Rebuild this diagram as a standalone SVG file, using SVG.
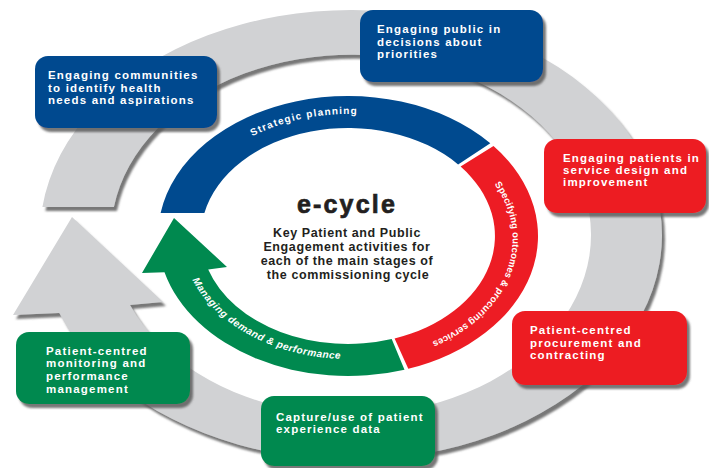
<svg xmlns="http://www.w3.org/2000/svg" xmlns:xlink="http://www.w3.org/1999/xlink" width="709" height="468" viewBox="0 0 709 468">
<style>
.box-blue{fill:#004a8f}
.box-red{fill:#ed1c24}
.box-green{fill:#00894f}
.bt{font-family:"Liberation Sans",Arial,sans-serif;font-weight:bold;font-size:11.5px;letter-spacing:1.2px;fill:#ffffff}
.ct{font-family:"Liberation Sans",Arial,sans-serif;font-weight:bold;font-size:12.5px;letter-spacing:0.6px;fill:#231f20;text-anchor:middle}
.arc{font-family:"Liberation Sans",Arial,sans-serif;font-weight:bold;fill:#ffffff}
.man{font-size:10px;font-style:italic;letter-spacing:0.5px}
</style>
<defs>
<filter id="ds" x="-10%" y="-10%" width="130%" height="130%">
<feGaussianBlur in="SourceAlpha" stdDeviation="1.2"/>
<feOffset dx="3" dy="4" result="o"/>
<feFlood flood-color="#555555" flood-opacity="0.8"/>
<feComposite in2="o" operator="in"/>
<feMerge><feMergeNode/><feMergeNode in="SourceGraphic"/></feMerge>
</filter>
<path id="p-strat" d="M194.1,190.3 A166,122 0 0,1 436,132.5"/>
<path id="p-spec" d="M474.5,162 A161,119 0 0,1 403.8,351.5"/>
<path id="p-man" d="M181.6,238 A167,123 0 0,0 391,355"/>
</defs>

<g id="connectors">
<path id="cycle-arrow" filter="url(#ds)" fill="#d1d2d4" d="M42.4,207 A311,225 0 1,1 59.3,313 L13,315 L72,217 L163,302 L130,305 A240,180 0 1,0 113.9,207 Z"/>
</g>

<g id="stage-strategic">
<path fill="#004a8f" d="M160.6,212.9 A190,140 0 0,1 490.3,143.2 L458.1,164.4 A147,108 0 0,0 204.4,213 Z"/>
<text class="arc" font-size="10" letter-spacing="1.2"><textPath xlink:href="#p-strat" href="#p-strat" startOffset="50%" text-anchor="middle">Strategic planning</textPath></text>
</g>

<g id="stage-specifying">
<path fill="#ed1c24" d="M493.5,146 A190,140 0 0,1 408.3,368.8 L394.6,338.4 A147,108 0 0,0 460.6,166.6 Z"/>
<text class="arc" font-size="9.5" letter-spacing="0.1"><textPath xlink:href="#p-spec" href="#p-spec" startOffset="50%" text-anchor="middle">Specifying outcomes &amp; procuring services</textPath></text>
</g>

<g id="stage-managing">
<path fill="#00894f" d="M404.5,369.7 A190,140 0 0,1 164.5,272.2 L142,273 L174,218 L227,267 L208.2,269.4 A147,108 0 0,0 391.7,339.1 Z"/>
<text class="arc man"><textPath xlink:href="#p-man" href="#p-man" startOffset="43.5">Managing</textPath></text>
<text class="arc man"><textPath xlink:href="#p-man" href="#p-man" startOffset="97.5">demand</textPath></text>
<text class="arc man"><textPath xlink:href="#p-man" href="#p-man" startOffset="142.1">&amp; performance</textPath></text>
</g>

<g id="center-title">
<text x="347" y="213" font-family="Liberation Sans,Arial,sans-serif" font-weight="bold" font-size="25" letter-spacing="2.2" fill="#231f20" stroke="#231f20" stroke-width="0.7" text-anchor="middle">e-cycle</text>
<text class="ct" x="347" y="236.5">Key Patient and Public</text>
<text class="ct" x="347" y="250.5">Engagement activities for</text>
<text class="ct" x="347" y="264.5">each of the main stages of</text>
<text class="ct" x="348" y="278.5">the commissioning cycle</text>
</g>

<g id="box-communities">
<rect class="box-blue" filter="url(#ds)" x="35" y="56" width="182" height="72" rx="13"/>
<text class="bt" x="48" y="79">Engaging communities</text>
<text class="bt" x="48" y="91.7">to identify health</text>
<text class="bt" x="48" y="104.3">needs and aspirations</text>
</g>

<g id="box-public">
<rect class="box-blue" filter="url(#ds)" x="360" y="10" width="183" height="72" rx="13"/>
<text class="bt" x="377" y="33.3">Engaging public in</text>
<text class="bt" x="377" y="45.7">decisions about</text>
<text class="bt" x="377" y="58">priorities</text>
</g>

<g id="box-service-design">
<rect class="box-red" filter="url(#ds)" x="544" y="139" width="162" height="74" rx="13"/>
<text class="bt" x="563" y="161.7">Engaging patients in</text>
<text class="bt" x="563" y="174">service design and</text>
<text class="bt" x="563" y="186.3">improvement</text>
</g>

<g id="box-procurement">
<rect class="box-red" filter="url(#ds)" x="512" y="311" width="175" height="74" rx="13"/>
<text class="bt" x="530" y="334">Patient-centred</text>
<text class="bt" x="530" y="346.7">procurement and</text>
<text class="bt" x="530" y="359.3">contracting</text>
</g>

<g id="box-experience">
<rect class="box-green" filter="url(#ds)" x="261" y="396" width="174" height="70" rx="13"/>
<text class="bt" x="276" y="420.7">Capture/use of patient</text>
<text class="bt" x="276" y="433">experience data</text>
</g>

<g id="box-monitoring">
<rect class="box-green" filter="url(#ds)" x="16" y="332" width="174" height="72" rx="13"/>
<text class="bt" x="46" y="355">Patient-centred</text>
<text class="bt" x="46" y="367.3">monitoring and</text>
<text class="bt" x="46" y="380">performance</text>
<text class="bt" x="46" y="392.7">management</text>
</g>
</svg>
